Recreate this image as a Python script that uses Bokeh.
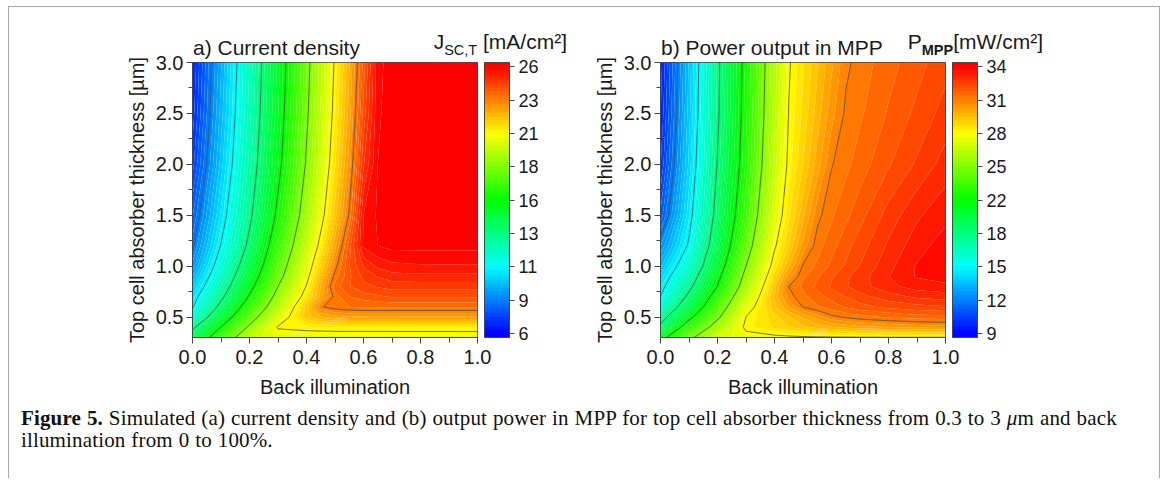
import numpy as np
from bokeh.plotting import figure
from bokeh.models import (FixedTicker, PrintfTickFormatter, Range1d, Div,
                          ColorBar, LinearColorMapper)
from bokeh.layouts import row, column
from bokeh.core.properties import field
from bokeh.embed import file_html
from bokeh.resources import INLINE

# ---------------- data ----------------
back_illumination = [0.0, 0.1, 0.2, 0.3, 0.4, 0.45, 0.5, 0.55, 0.6, 0.65, 0.7, 0.8, 0.9, 1.0]
thickness_um = [0.3, 0.4, 0.5, 0.6, 0.7, 0.8, 0.9, 1.0, 1.2, 1.5, 2.0, 2.5, 3.0]

# rows follow thickness_um, columns follow back_illumination
jsc_top = [
    [14.1, 17.1, 19.6, 20.25, 20.3, 20.32, 20.34, 20.35, 20.35, 20.36, 20.36, 20.37, 20.37, 20.38],
    [13.2, 15.95, 18.6, 20.9, 21.05, 21.08, 21.1, 21.1, 21.1, 21.1, 21.1, 21.1, 21.1, 21.1],
    [11.85, 14.81, 17.63, 20.1, 21.9, 22.3, 22.5, 22.6, 22.6, 22.6, 22.6, 22.6, 22.6, 22.6],
    [10.9, 13.88, 16.76, 19.4, 21.87, 23.2, 23.45, 23.55, 23.6, 23.6, 23.6, 23.6, 23.6, 23.6],
    [10.5, 13.15, 16.04, 18.84, 21.26, 22.4, 23.4, 23.85, 24.0, 24.1, 24.2, 24.2, 24.2, 24.2],
    [9.94, 12.57, 15.44, 18.36, 20.86, 22.37, 23.7, 24.15, 24.4, 24.5, 24.6, 24.6, 24.6, 24.6],
    [9.46, 12.08, 14.95, 17.85, 20.53, 22.0, 23.4, 24.1, 24.55, 24.8, 24.95, 25.0, 25.0, 25.0],
    [8.98, 11.66, 14.5, 17.5, 20.26, 21.66, 23.11, 24.15, 24.8, 25.15, 25.3, 25.35, 25.35, 25.35],
    [8.42, 11.05, 13.78, 16.89, 19.69, 21.09, 22.53, 24.02, 25.45, 25.7, 25.8, 25.8, 25.8, 25.8],
    [7.9, 10.48, 13.18, 16.19, 19.05, 20.46, 21.88, 23.33, 25.4, 25.75, 25.85, 25.85, 25.85, 25.85],
    [7.19, 9.91, 12.67, 15.55, 18.47, 19.93, 21.37, 22.79, 24.74, 25.7, 25.85, 25.9, 25.9, 25.9],
    [6.85, 9.61, 12.39, 15.26, 18.17, 19.63, 21.08, 22.47, 24.28, 25.65, 25.85, 25.9, 25.9, 25.9],
    [6.68, 9.43, 12.23, 15.09, 18.0, 19.46, 20.91, 22.29, 23.97, 25.6, 25.85, 25.9, 25.9, 25.9],
]

p_mpp = [
    [20.8, 24.2, 26.6, 27.35, 27.5, 27.55, 27.6, 27.62, 27.64, 27.66, 27.68, 27.7, 27.7, 27.7],
    [18.7, 22.67, 25.45, 28.0, 28.6, 28.9, 29.2, 29.45, 29.65, 29.8, 29.95, 30.1, 30.2, 30.3],
    [17.6, 21.05, 24.31, 27.77, 28.76, 29.25, 29.75, 30.25, 30.75, 30.95, 31.1, 31.3, 31.45, 31.5],
    [16.5, 19.65, 23.33, 27.14, 29.2, 30.06, 30.9, 31.2, 31.45, 31.7, 31.9, 32.15, 32.3, 32.4],
    [15.3, 18.8, 22.45, 26.34, 29.4, 30.7, 31.15, 31.5, 31.8, 32.05, 32.3, 32.65, 32.9, 33.0],
    [14.76, 17.94, 21.54, 25.58, 29.2, 30.88, 31.35, 31.75, 32.1, 32.4, 32.65, 33.1, 33.4, 33.5],
    [14.2, 17.24, 21.02, 25.12, 28.71, 30.26, 31.2, 31.6, 32.0, 32.35, 32.65, 33.2, 33.65, 33.8],
    [13.6, 16.48, 20.43, 24.63, 28.24, 29.6, 30.95, 31.35, 31.75, 32.1, 32.45, 33.1, 33.65, 33.9],
    [12.5, 15.43, 19.63, 23.78, 27.6, 28.93, 30.21, 31.1, 31.5, 31.9, 32.25, 32.9, 33.45, 33.8],
    [11.05, 14.77, 18.96, 23.02, 26.97, 28.42, 29.58, 30.73, 31.2, 31.55, 31.9, 32.6, 33.15, 33.5],
    [10.14, 14.2, 18.45, 22.38, 26.37, 27.96, 28.92, 29.88, 30.84, 31.15, 31.45, 32.0, 32.5, 33.0],
    [9.75, 13.92, 18.16, 22.17, 26.06, 27.78, 28.63, 29.48, 30.33, 30.96, 31.2, 31.7, 32.15, 32.6],
    [9.55, 13.77, 18.07, 22.03, 25.91, 27.65, 28.47, 29.24, 30.0, 30.77, 31.05, 31.5, 31.9, 32.3],
]

jsc_scale = (6.1, 25.7)          # first / last labelled value of the colour scale
jsc_tick_labels = ["6", "9", "11", "13", "16", "18", "21", "23", "26"]
pmpp_scale = (9.0, 34.0)
pmpp_tick_labels = ["9", "12", "15", "18", "22", "25", "28", "31", "34"]

x_ticks = [0.0, 0.2, 0.4, 0.6, 0.8, 1.0]
x_minor_ticks = [0.1, 0.3, 0.5, 0.7, 0.9]
y_ticks = [0.5, 1.0, 1.5, 2.0, 2.5, 3.0]
y_minor_ticks = [0.75, 1.25, 1.75, 2.25, 2.75]

title_a = "a) Current density"
title_b = "b) Power output in MPP"
x_label = "Back illumination"
y_label = "Top cell absorber thickness [µm]"

# ---------------- styling ----------------
FONT = "Liberation Sans"
AX = "#454545"
TXT = "#1a1a1a"
N_MAJOR = 8
SUB = 8


def rainbow(t):
    t = min(max(t, 0.0), 1.0)
    if t < 0.25:
        r, g, b = 0, 255 * t / 0.25, 255
    elif t < 0.5:
        r, g, b = 0, 255, 255 * (1 - (t - 0.25) / 0.25)
    elif t < 0.75:
        r, g, b = 255 * (t - 0.5) / 0.25, 255, 0
    else:
        r, g, b = 255, 255 * (1 - (t - 0.75) / 0.25), 0
    return "#%02x%02x%02x" % (int(round(r)), int(round(g)), int(round(b)))


N_BANDS = N_MAJOR * SUB + 2
palette = [rainbow(((k - 0.5) / SUB) / N_MAJOR) for k in range(N_BANDS)]


def scale_edges(lo, hi):
    step = (hi - lo) / (N_MAJOR * SUB)
    inner = [lo + i * step for i in range(N_MAJOR * SUB + 1)]
    return step, inner


def style_axis(ax):
    ax.axis_line_color = AX
    ax.major_tick_line_color = AX
    ax.minor_tick_line_color = AX
    ax.major_tick_in = 0
    ax.minor_tick_in = 0
    ax.major_label_text_font = FONT
    ax.major_label_text_font_size = "20px"
    ax.major_label_text_color = TXT
    ax.axis_label_text_font = FONT
    ax.axis_label_text_font_size = "20px"
    ax.axis_label_text_font_style = "normal"
    ax.axis_label_text_color = TXT


def panel(z, lo, hi, labels, left_border, right_border):
    step, inner = scale_edges(lo, hi)
    p = figure(width=left_border + 285 + right_border, height=393,
               x_range=Range1d(0, 1), y_range=Range1d(0.3, 3.0),
               min_border_left=left_border, min_border_right=right_border,
               min_border_top=55, min_border_bottom=63,
               toolbar_location=None, output_backend="svg",
               x_axis_label=x_label, y_axis_label=y_label)
    p.grid.visible = False
    p.outline_line_color = AX
    zz = np.array(z)
    levels = [lo - 100.0] + inner + [hi + 100.0]
    cf = p.contour(back_illumination, thickness_um, zz, levels=levels,
                   fill_color=palette, line_color=None)
    fr = cf.fill_renderer
    if "fill_color" in fr.data_source.data:
        fr.glyph.line_color = field("fill_color")
        fr.glyph.line_width = 0.6
    p.contour(back_illumination, thickness_um, zz, levels=inner[SUB:-SUB:SUB],
              fill_color=None, line_color="#3c3c3c", line_width=0.8, line_alpha=0.9)

    style_axis(p.xaxis[0])
    style_axis(p.yaxis[0])
    p.xaxis.ticker = FixedTicker(ticks=x_ticks, minor_ticks=x_minor_ticks)
    p.yaxis.ticker = FixedTicker(ticks=y_ticks, minor_ticks=y_minor_ticks)
    p.xaxis.formatter = PrintfTickFormatter(format="%.1f")
    p.yaxis.formatter = PrintfTickFormatter(format="%.1f")
    p.xaxis.major_tick_out = 6
    p.xaxis.minor_tick_out = 5
    p.yaxis.major_tick_out = 6
    p.yaxis.minor_tick_out = 4
    p.xaxis.major_label_standoff = 6
    p.yaxis.major_label_standoff = 3
    p.xaxis.axis_label_standoff = 9
    p.yaxis.axis_label_standoff = 5

    mapper = LinearColorMapper(palette=palette, low=lo - step, high=hi + step)
    ticks = inner[::SUB]
    cb = ColorBar(color_mapper=mapper, location=(7, 0), width=25, padding=0, margin=0,
                  ticker=FixedTicker(ticks=ticks, minor_ticks=[]),
                  major_label_overrides={t: s for t, s in zip(ticks, labels)},
                  major_tick_out=5, major_tick_in=0, major_tick_line_color=AX,
                  bar_line_color=AX, border_line_color=None,
                  background_fill_color=None,
                  major_label_text_font=FONT, major_label_text_font_size="18px",
                  major_label_text_color=TXT, label_standoff=4)
    p.add_layout(cb, "right")
    return p


fig_a = panel(jsc_top, jsc_scale[0], jsc_scale[1], jsc_tick_labels, 183, 93)
fig_b = panel(p_mpp, pmpp_scale[0], pmpp_scale[1], pmpp_tick_labels, 90, 214)

# titles: an HTML layer laid over the top margin of the two panels
span = "position:absolute;white-space:nowrap;font-size:21px;line-height:20px;"
sub = "font-size:14.5px;position:relative;top:6px;"
titles_html = (
    '<div style="position:relative;width:1150px;height:393px;'
    "font-family:'Liberation Sans',Arial,sans-serif;color:#1a1a1a;\">"
    f'<span style="{span}left:184px;top:31px;">{title_a}</span>'
    f'<span style="{span}right:592px;top:25px;">J<span style="{sub}">SC,T</span> [mA/cm²]</span>'
    f'<span style="{span}left:652px;top:31px;">{title_b}</span>'
    f'<span style="{span}right:116px;top:25px;">P<span style="{sub}font-weight:bold;">MPP</span>[mW/cm²]</span>'
    '</div>'
)
titles = Div(text=titles_html, width=1150, height=393, margin=(-393, 0, 0, 0))

caption_html = (
    '<div style="position:relative;width:1150px;height:78px;">'
    "<div style=\"position:absolute;left:12px;top:7px;font-family:'Liberation Serif','Times New Roman',serif;"
    'font-size:21px;line-height:22px;letter-spacing:0.15px;word-spacing:0.5px;color:#111;white-space:nowrap;">'
    '<b>Figure 5.</b> Simulated (a) current density and (b) output power in MPP for top cell absorber '
    'thickness from 0.3 to 3 <i>μ</i>m and back<br>illumination from 0 to 100%.'
    '</div></div>'
)
caption = Div(text=caption_html, width=1150, height=78, margin=0)

plots = row(fig_a, fig_b)
page = column(plots, titles, caption, margin=(6, 0, 0, 8),
              styles={"border": "1px solid #a8a8a8", "border-bottom": "0px"})

open("out.html", "w").write(file_html(page, INLINE))
